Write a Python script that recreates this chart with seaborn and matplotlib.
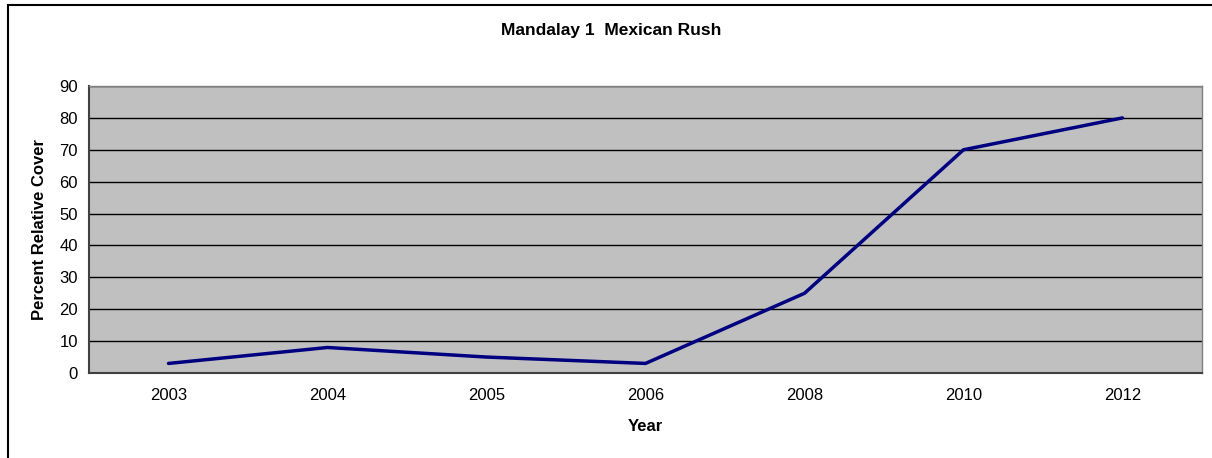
import seaborn as sns
import matplotlib.pyplot as plt
import pandas as pd
from matplotlib.patches import Rectangle

# Chart data
years = ['2003', '2004', '2005', '2006', '2008', '2010', '2012']
cover = [3, 8, 5, 3, 25, 70, 80]
y_ticks = [0, 10, 20, 30, 40, 50, 60, 70, 80, 90]

data = pd.DataFrame({'Year': years, 'Cover': cover})
data['pos'] = range(len(years))

sns.set_style('white')
plt.rcParams['font.family'] = ['Liberation Sans', 'DejaVu Sans']
plt.rcParams['text.color'] = 'black'
plt.rcParams['axes.labelcolor'] = 'black'
plt.rcParams['xtick.color'] = 'black'
plt.rcParams['ytick.color'] = 'black'

W, H = 1212, 458
fig = plt.figure(figsize=(W / 100, H / 100), dpi=100)
ax = fig.add_axes([89 / W, 1 - 373 / H, (1202 - 89) / W, (373 - 86) / H])
ax.set_facecolor('#c0c0c0')

sns.lineplot(data=data, x='pos', y='Cover', ax=ax, color='#000080', linewidth=2.5)

ax.set_xlim(-0.5, len(years) - 0.5)
ax.set_ylim(0, 90)
ax.set_yticks(y_ticks)
ax.set_yticklabels([str(t) for t in y_ticks], fontsize=12)
ax.yaxis.grid(True, color='black', linewidth=1)
ax.set_axisbelow(True)

# category labels centred, tick marks between categories
ax.set_xticks(range(len(years)))
ax.set_xticklabels(years, fontsize=12)
ax.set_xticks([i - 0.5 for i in range(len(years) + 1)], minor=True)
ax.tick_params(axis='x', which='major', length=0, pad=11)
ax.tick_params(axis='x', which='minor', length=5, width=1, color='black', direction='out')
ax.tick_params(axis='y', length=5, width=1, color='black', direction='out', pad=3)

for side in ['left', 'bottom']:
    ax.spines[side].set_color('#404040')
    ax.spines[side].set_linewidth(1.5)
for side in ['top', 'right']:
    ax.spines[side].set_color('#808080')
    ax.spines[side].set_linewidth(1)

ax.set_xlabel('Year', fontsize=12, fontweight='bold', labelpad=11)
ax.set_ylabel('Percent Relative Cover', fontsize=12, fontweight='bold', labelpad=9)

fig.text(611 / W, 1 - 30 / H, 'Mandalay 1  Mexican Rush', ha='center', va='center',
         fontsize=12.5, fontweight='bold')

# outer chart border
fig.patches.append(Rectangle((8 / W, -0.05), 1.1, 1 - 5 / H + 0.05, transform=fig.transFigure,
                             fill=False, edgecolor='black', linewidth=1.5))

fig.savefig('out.png', dpi=100)
